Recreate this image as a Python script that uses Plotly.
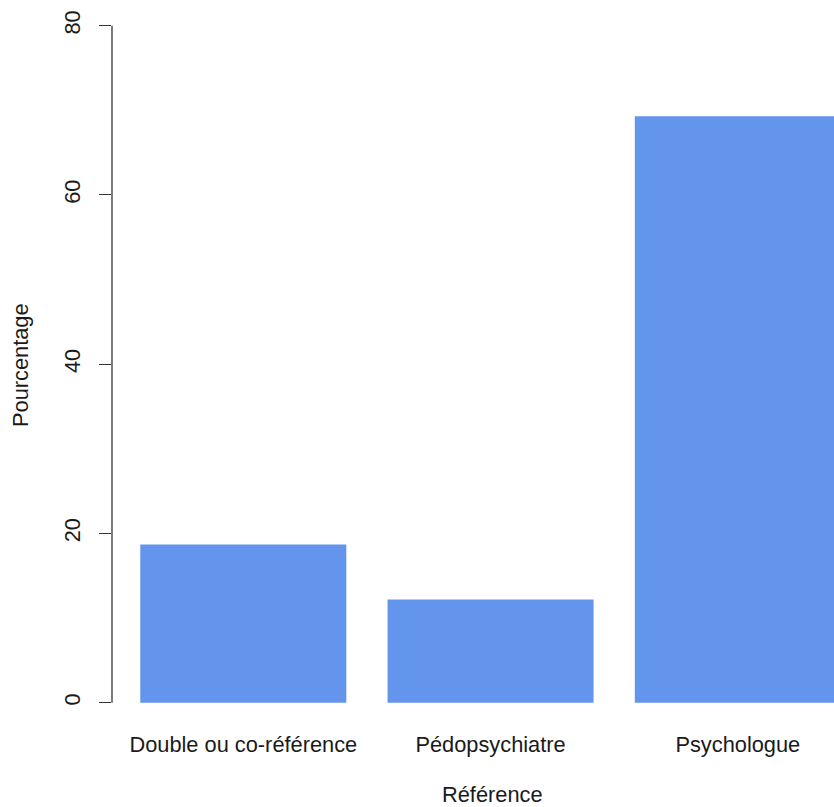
import plotly.graph_objects as go

categories = ["Double ou co-référence", "Pédopsychiatre", "Psychologue"]
percentages = [18.7, 12.2, 69.3]
y_ticks = [0, 20, 40, 60, 80]

FONT = "Liberation Sans, Arial, sans-serif"
TXT = "#1a1a1a"
FS = 21.8

W, H = 834, 807
PLOT_L, PLOT_R, PLOT_T, PLOT_B = 112, 834, 0, 730
PW = PLOT_R - PLOT_L
PH = PLOT_B - PLOT_T

fig = go.Figure(
    go.Bar(
        x=categories,
        y=percentages,
        marker=dict(color="#6495ED", line=dict(width=0)),
        width=0.8333,
    )
)

fig.update_layout(
    width=W,
    height=H,
    margin=dict(l=PLOT_L, r=W - PLOT_R, t=PLOT_T, b=H - PLOT_B),
    paper_bgcolor="white",
    plot_bgcolor="white",
    showlegend=False,
    font=dict(family=FONT, size=FS, color=TXT),
    bargap=0.1667,
)

fig.update_xaxes(
    type="category",
    range=[-0.531, 2.389],
    showline=False,
    showgrid=False,
    zeroline=False,
    ticks="",
    tickfont=dict(family=FONT, size=FS, color=TXT),
    ticklabelstandoff=-1,
)

fig.update_yaxes(
    range=[-3.23, 83.04],
    tickvals=y_ticks,
    ticktext=[str(v) for v in y_ticks],
    tickangle=-90,
    ticks="outside",
    ticklen=12,
    tickwidth=1.3,
    tickcolor="#333333",
    showline=False,
    showgrid=False,
    zeroline=False,
    tickfont=dict(family=FONT, size=FS, color=TXT),
    ticklabelstandoff=10,
)

fig.add_shape(
    type="line", xref="paper", yref="y",
    x0=0, x1=0, y0=y_ticks[0], y1=y_ticks[-1],
    line=dict(color="#333333", width=1.3),
)

fig.add_annotation(
    text="Pourcentage", xref="paper", yref="paper",
    x=(20 - PLOT_L) / PW, y=(PLOT_B - 365) / PH, textangle=-90,
    showarrow=False, xanchor="center", yanchor="middle",
    font=dict(family=FONT, size=FS, color=TXT),
)
fig.add_annotation(
    text="Référence", xref="paper", yref="paper",
    x=(492 - PLOT_L) / PW, y=(PLOT_B - 795) / PH,
    showarrow=False, xanchor="center", yanchor="middle",
    font=dict(family=FONT, size=FS, color=TXT),
)

fig.write_html(
    "out.html",
    config={"displayModeBar": False},
    post_script=(
        "document.documentElement.style.overflow='hidden';"
        "document.body.style.margin='0';"
        "document.body.style.overflow='hidden';"
    ),
)
